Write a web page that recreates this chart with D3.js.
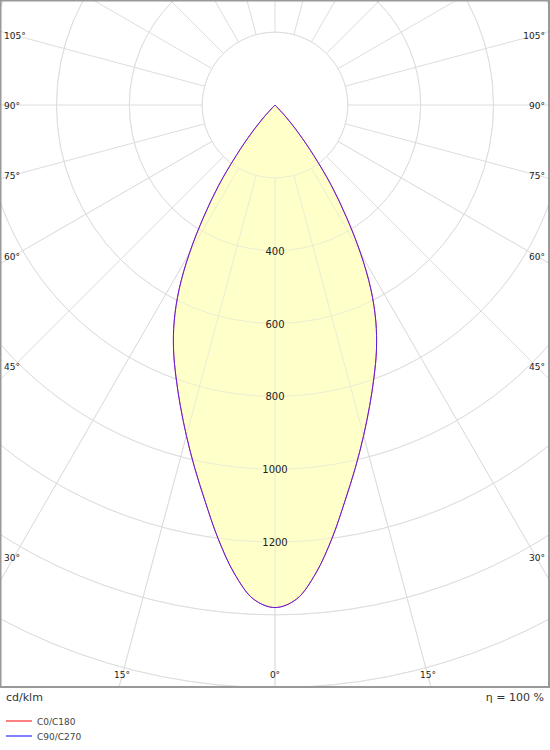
<!DOCTYPE html>
<html><head><meta charset="utf-8">
<script src="https://cdn.jsdelivr.net/npm/d3@7"></script>
<style>body{margin:0;background:#fff}text{font-family:"DejaVu Sans",sans-serif}</style>
</head><body><svg id="c" width="550" height="750"></svg>
<script>
const angles = [0,2.5,5,7.5,10,12.5,15,17.5,20,22.5,25,27.5,30,32.5,35,37.5,40,42.5,45,50,60,70,80,90];
const c0c180 = [1380,1358,1290,1200,1105,1020,940,865,795,728,655,570,470,365,270,175,100,42,0,0,0,0,0,0];
const c90c270 = [1380,1358,1290,1200,1105,1020,940,865,795,728,655,570,470,365,270,175,100,42,0,0,0,0,0,0];
const ringValues = [200,400,600,800,1000,1200,1400,1600,1800,2000];
const ringLabels = [400,600,800,1000,1200];
const angleLabels = [0,15,30,45,60,75,90,105];

const svg = d3.select("#c");
const W=549,H=687,cx=275,cy=105;
const r = d3.scaleLinear().domain([0,1200]).range([0,437]);
svg.append("clipPath").attr("id","clip").append("rect").attr("x",1).attr("y",1).attr("width",W-2).attr("height",H-2);
const g = svg.append("g").attr("clip-path","url(#clip)");
const grid="#dddddd";
const pt=(a,v,s)=>[cx+s*r(v)*Math.sin(a*Math.PI/180), cy+r(v)*Math.cos(a*Math.PI/180)];
ringValues.forEach(v=>g.append("circle").attr("cx",cx).attr("cy",cy).attr("r",r(v)).attr("fill","none").attr("stroke",grid));
for(let a=0;a<=180;a+=15){[-1,1].forEach(s=>{if((a===0||a===180)&&s<0)return;
 const p1=pt(a,200,s),p2=pt(a,3000,s);
 g.append("line").attr("x1",p1[0]).attr("y1",p1[1]).attr("x2",p2[0]).attr("y2",p2[1]).attr("stroke",grid);});}
const line=d3.line().curve(d3.curveCatmullRom);
const ptsA=(vals)=>{const L=angles.map((a,i)=>pt(a,vals[i],-1)).reverse();const R=angles.map((a,i)=>pt(a,vals[i],1)).slice(1);return L.concat(R);};
g.append("path").attr("d",line(ptsA(c0c180))).attr("fill","#ffffc4").attr("fill-opacity",0.9).attr("stroke","none");
ringValues.forEach(v=>g.append("circle").attr("cx",cx).attr("cy",cy).attr("r",r(v)).attr("fill","none").attr("stroke",grid).attr("stroke-opacity",0.5));
for(let a=0;a<=60;a+=15){[-1,1].forEach(s=>{if(a===0&&s<0)return;const p1=pt(a,200,s),p2=pt(a,3000,s);
 g.append("line").attr("x1",p1[0]).attr("y1",p1[1]).attr("x2",p2[0]).attr("y2",p2[1]).attr("stroke",grid).attr("stroke-opacity",0.5);});}
g.append("path").attr("d",line(ptsA(c0c180))).attr("fill","none").attr("stroke","#ff6060").attr("stroke-width",1);
g.append("path").attr("d",line(ptsA(c90c270))).attr("fill","none").attr("stroke","#5a1ee6").attr("stroke-width",1);
ringLabels.forEach(v=>svg.append("text").attr("x",cx).attr("y",cy+r(v)+4).attr("text-anchor","middle").attr("font-size",10).attr("fill","#222").text(v));
angleLabels.forEach(a=>{
 const rad=a*Math.PI/180;
 if(a===0){svg.append("text").attr("x",cx).attr("y",H-9).attr("text-anchor","middle").attr("font-size",9).attr("fill","#222").text("0°");return;}
 if(a>=30){
  const ly=cy+261*Math.cos(rad)/Math.sin(rad)+4;
  svg.append("text").attr("x",4).attr("y",ly).attr("font-size",9).attr("fill","#222").text(a+"°");
  svg.append("text").attr("x",W-4).attr("y",ly).attr("text-anchor","end").attr("font-size",9).attr("fill","#222").text(a+"°");
 } else {
  const off=571*Math.tan(rad);
  [cx-off,cx+off].forEach(x=>svg.append("text").attr("x",x).attr("y",H-9).attr("text-anchor","middle").attr("font-size",9).attr("fill","#222").text(a+"°"));
 }
});
svg.append("rect").attr("x",0.5).attr("y",0.5).attr("width",W-0.5).attr("height",H-0.5).attr("fill","none").attr("stroke","#999").attr("stroke-width",2);
svg.append("text").attr("x",6).attr("y",701).attr("font-size",11).attr("fill","#333").text("cd/klm");
svg.append("text").attr("x",544).attr("y",701).attr("text-anchor","end").attr("font-size",11).attr("fill","#333").text("η = 100 %");
[["C0/C180","#ff8080"],["C90/C270","#8080ff"]].forEach((d,i)=>{
 svg.append("line").attr("x1",6).attr("x2",32).attr("y1",721+i*15).attr("y2",721+i*15).attr("stroke",d[1]).attr("stroke-width",2);
 svg.append("text").attr("x",37).attr("y",725+i*15).attr("font-size",9).attr("fill","#444").text(d[0]);
});
</script></body></html>
